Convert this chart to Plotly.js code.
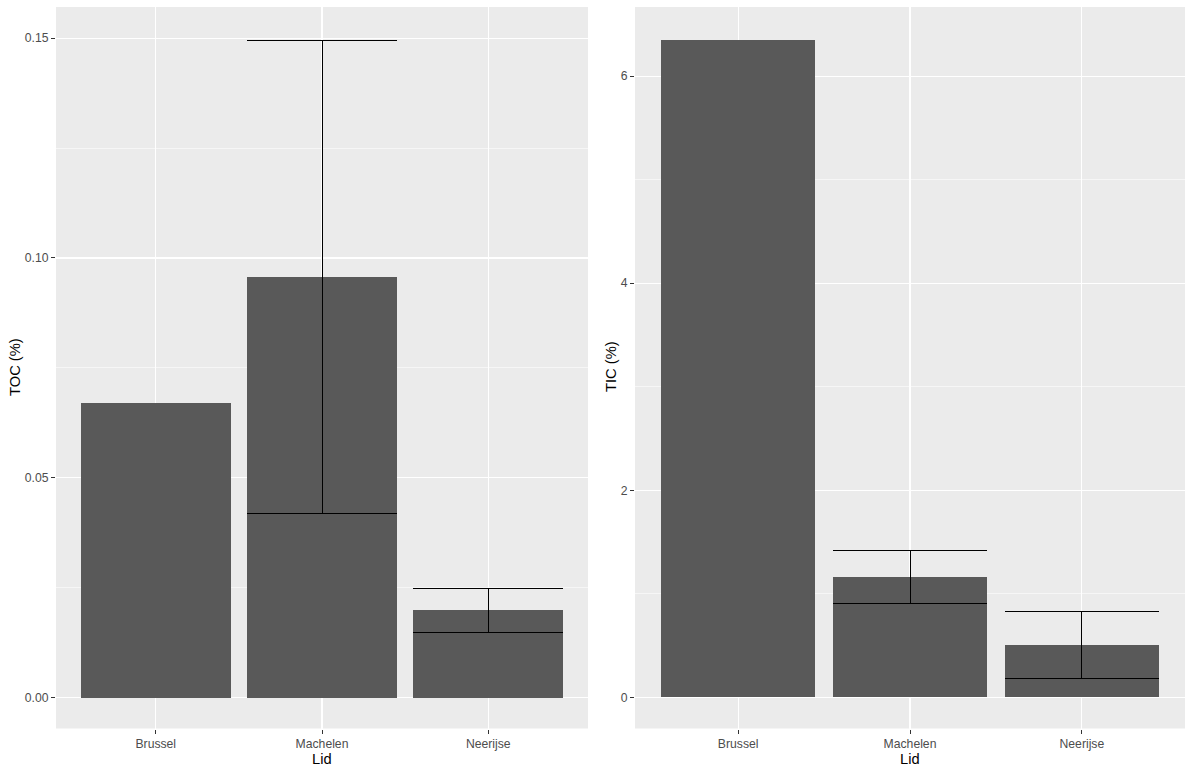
<!DOCTYPE html>
<html>
<head>
<meta charset="utf-8">
<script src="https://cdn.plot.ly/plotly-3.0.1.min.js"></script>
<style>html,body{margin:0;padding:0;background:#fff;}#chart{width:1192px;height:774px;}</style>
</head>
<body>
<div id="chart"></div>
<script>
// Data
const categories = ["Brussel", "Machelen", "Neerijse"];
const tocMean = [0.0671, 0.0957, 0.0198];
const tocSd = [null, 0.0538, 0.0050];
const ticMean = [6.35, 1.167, 0.504];
const ticSd = [null, 0.256, 0.324];
const tocTicks = [0, 0.05, 0.10, 0.15];
const ticTicks = [0, 2, 4, 6];

const toNum = a => a.map(v => (v === null ? NaN : v));

const barColor = '#595959';
const font = 'Liberation Sans, Arial, sans-serif';

const traces = [
  {
    type: 'bar', x: categories, y: tocMean, width: 0.9,
    marker: {color: barColor, line: {width: 0}},
    error_y: {type: 'data', array: toNum(tocSd), visible: true, color: '#000', thickness: 1, width: 75},
    xaxis: 'x', yaxis: 'y', hoverinfo: 'x+y'
  },
  {
    type: 'bar', x: categories, y: ticMean, width: 0.9,
    marker: {color: barColor, line: {width: 0}},
    error_y: {type: 'data', array: toNum(ticSd), visible: true, color: '#000', thickness: 1, width: 77},
    xaxis: 'x2', yaxis: 'y2', hoverinfo: 'x+y'
  }
];

const W = 1192, H = 774;
const yTop = 1 - 7 / H, yBot = 1 - 728.5 / H;

const xCommon = {
  type: 'category', range: [-0.6, 2.6], showgrid: true, gridcolor: '#FFFFFF', gridwidth: 1.1,
  zeroline: false, showline: false, ticks: 'outside', ticklen: 4, tickwidth: 1, tickcolor: '#333333',
  tickfont: {family: font, size: 12.2, color: '#4D4D4D'}, fixedrange: true
};
const yCommon = {
  showgrid: true, gridcolor: '#FFFFFF', gridwidth: 1.1, zeroline: false, showline: false,
  ticks: 'outside', ticklen: 4, tickwidth: 1, tickcolor: '#333333',
  tickfont: {family: font, size: 12.2, color: '#4D4D4D'}, fixedrange: true,
  domain: [yBot, yTop]
};

const layout = {
  width: W, height: H,
  margin: {l: 0, r: 0, t: 0, b: 0},
  paper_bgcolor: '#FFFFFF', plot_bgcolor: '#EBEBEB',
  showlegend: false, bargap: 0,
  font: {family: font},
  xaxis: Object.assign({}, xCommon, {domain: [56 / W, 588 / W], anchor: 'y'}),
  yaxis: Object.assign({}, yCommon, {
    anchor: 'x', range: [-0.00705, 0.1571], tickmode: 'array', tickvals: tocTicks,
    ticktext: tocTicks.map(v => v.toFixed(2)),
    minor: {tickmode: 'array', tickvals: [0.025, 0.075, 0.125], showgrid: true, gridcolor: '#FFFFFF', gridwidth: 0.55, ticks: ''}
  }),
  xaxis2: Object.assign({}, xCommon, {domain: [635 / W, 1185 / W], anchor: 'y2'}),
  yaxis2: Object.assign({}, yCommon, {
    anchor: 'x2', range: [-0.2995, 6.667], tickmode: 'array', tickvals: ticTicks,
    ticktext: ticTicks.map(v => String(v)),
    minor: {tickmode: 'array', tickvals: [1, 3, 5], showgrid: true, gridcolor: '#FFFFFF', gridwidth: 0.55, ticks: ''}
  }),
  annotations: [
    {text: 'TOC (%)', xref: 'paper', yref: 'paper', x: 15 / W, y: 1 - 367 / H, textangle: -90,
     showarrow: false, font: {family: font, size: 14.7, color: '#000'}, xanchor: 'center', yanchor: 'middle'},
    {text: 'TIC (%)', xref: 'paper', yref: 'paper', x: 611 / W, y: 1 - 367 / H, textangle: -90,
     showarrow: false, font: {family: font, size: 14.7, color: '#000'}, xanchor: 'center', yanchor: 'middle'},
    {text: 'Lid', xref: 'paper', yref: 'paper', x: 322 / W, y: 1 - 759 / H,
     showarrow: false, font: {family: font, size: 14.7, color: '#000'}, xanchor: 'center', yanchor: 'middle'},
    {text: 'Lid', xref: 'paper', yref: 'paper', x: 910 / W, y: 1 - 759 / H,
     showarrow: false, font: {family: font, size: 14.7, color: '#000'}, xanchor: 'center', yanchor: 'middle'}
  ]
};

Plotly.newPlot('chart', traces, layout, {displayModeBar: false, staticPlot: true});
</script>
</body>
</html>
